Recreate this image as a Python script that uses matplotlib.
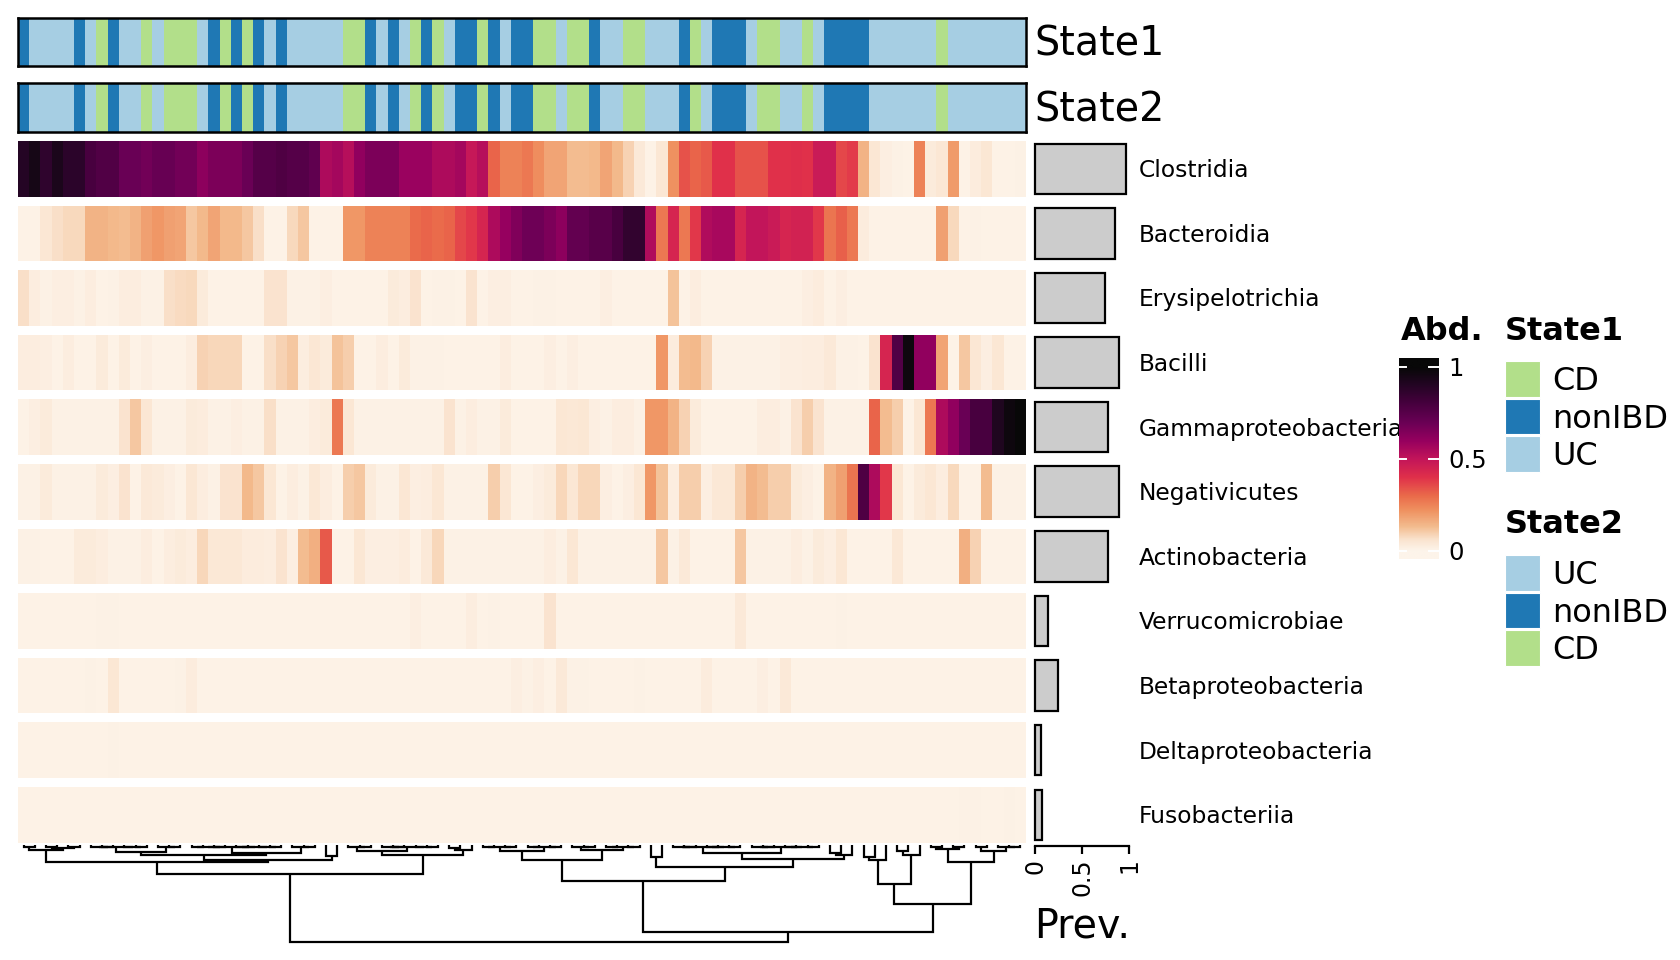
import numpy as np
import matplotlib
matplotlib.use("Agg")
import matplotlib.pyplot as plt
from matplotlib.colors import LinearSegmentedColormap, ListedColormap
from matplotlib.patches import Rectangle

# ---------------- data ----------------
taxa = ["Clostridia", "Bacteroidia", "Erysipelotrichia", "Bacilli",
        "Gammaproteobacteria", "Negativicutes", "Actinobacteria",
        "Verrucomicrobiae", "Betaproteobacteria", "Deltaproteobacteria",
        "Fusobacteriia"]

prevalence = [0.967, 0.844, 0.744, 0.889, 0.778, 0.889, 0.778, 0.133, 0.244, 0.067, 0.078]

clostridia = [0.90, 0.95, 0.87, 0.93, 0.88, 0.88, 0.80, 0.77, 0.77, 0.70,
              0.70, 0.68, 0.71, 0.71, 0.68, 0.68, 0.62, 0.66, 0.66, 0.66,
              0.70, 0.76, 0.76, 0.78, 0.76, 0.76, 0.73, 0.55, 0.57, 0.53,
              0.61, 0.66, 0.66, 0.66, 0.59, 0.59, 0.59, 0.55, 0.55, 0.57,
              0.49, 0.53, 0.31, 0.25, 0.25, 0.27, 0.23, 0.18, 0.18, 0.13,
              0.13, 0.14, 0.18, 0.14, 0.09, 0.04, 0.01, 0.05, 0.22, 0.34,
              0.31, 0.33, 0.40, 0.40, 0.34, 0.34, 0.34, 0.40, 0.40, 0.41,
              0.40, 0.48, 0.48, 0.36, 0.38, 0.15, 0.05, 0.02, 0.015, 0.01,
              0.25, 0.035, 0.05, 0.20, 0.01, 0.03, 0.05, 0.01, 0.01, 0.015]

bacteroidia = [0.01, 0.01, 0.05, 0.07, 0.08, 0.08, 0.15, 0.15, 0.14, 0.13,
               0.15, 0.19, 0.21, 0.19, 0.18, 0.11, 0.14, 0.18, 0.14, 0.14,
               0.11, 0.07, 0.01, 0.01, 0.08, 0.11, 0.01, 0.01, 0.01, 0.21,
               0.21, 0.25, 0.25, 0.25, 0.25, 0.30, 0.31, 0.30, 0.31, 0.36,
               0.39, 0.44, 0.55, 0.60, 0.65, 0.69, 0.69, 0.66, 0.62, 0.72,
               0.72, 0.75, 0.75, 0.80, 0.86, 0.86, 0.54, 0.27, 0.44, 0.27,
               0.39, 0.54, 0.56, 0.56, 0.44, 0.50, 0.50, 0.48, 0.44, 0.45,
               0.45, 0.39, 0.28, 0.32, 0.27, 0.03, 0.01, 0.01, 0.01, 0.01,
               0.01, 0.01, 0.19, 0.08, 0.01, 0.015, 0.01, 0.01, 0.01, 0.01]

erysipelotrichia = [0.07, 0.025, 0.015, 0.02, 0.02, 0.015, 0.025, 0.01, 0.015, 0.025,
                    0.025, 0.015, 0.015, 0.07, 0.075, 0.08, 0.035, 0.01, 0.01, 0.01,
                    0.01, 0.01, 0.06, 0.06, 0.012, 0.012, 0.012, 0.02, 0.01, 0.01,
                    0.01, 0.01, 0.01, 0.035, 0.025, 0.06, 0.01, 0.015, 0.015, 0.01,
                    0.06, 0.01, 0.02, 0.02, 0.01, 0.01, 0.015, 0.012, 0.01, 0.01,
                    0.01, 0.01, 0.02, 0.01, 0.01, 0.01, 0.01, 0.01, 0.12, 0.01,
                    0.025, 0.01, 0.01, 0.01, 0.01, 0.01, 0.01, 0.01, 0.01, 0.01,
                    0.02, 0.03, 0.01, 0.02, 0.01, 0.01, 0.01, 0.01, 0.01, 0.01,
                    0.01, 0.01, 0.01, 0.01, 0.01, 0.01, 0.01, 0.01, 0.01, 0.01]

bacilli = [0.025, 0.025, 0.02, 0.01, 0.025, 0.01, 0.01, 0.035, 0.01, 0.035,
           0.01, 0.02, 0.01, 0.01, 0.01, 0.025, 0.09, 0.085, 0.085, 0.085,
           0.01, 0.01, 0.07, 0.09, 0.11, 0.025, 0.05, 0.035, 0.12, 0.10,
           0.01, 0.01, 0.025, 0.01, 0.035, 0.015, 0.015, 0.015, 0.01, 0.01,
           0.01, 0.01, 0.01, 0.025, 0.01, 0.01, 0.01, 0.02, 0.01, 0.02,
           0.01, 0.01, 0.01, 0.01, 0.01, 0.01, 0.01, 0.21, 0.03, 0.13,
           0.14, 0.09, 0.012, 0.012, 0.012, 0.012, 0.012, 0.012, 0.02, 0.02,
           0.025, 0.025, 0.04, 0.015, 0.015, 0.01, 0.06, 0.44, 0.77, 0.98,
           0.61, 0.61, 0.18, 0.01, 0.11, 0.05, 0.02, 0.05, 0.01, 0.01]

gammaproteobacteria = [0.01, 0.02, 0.035, 0.012, 0.012, 0.012, 0.012, 0.012, 0.012, 0.06,
                       0.11, 0.05, 0.015, 0.015, 0.015, 0.035, 0.03, 0.012, 0.012, 0.02,
                       0.012, 0.012, 0.07, 0.012, 0.012, 0.012, 0.025, 0.035, 0.27, 0.05,
                       0.012, 0.012, 0.012, 0.012, 0.012, 0.012, 0.012, 0.012, 0.06, 0.012,
                       0.025, 0.012, 0.012, 0.035, 0.01, 0.01, 0.01, 0.01, 0.05, 0.045,
                       0.05, 0.02, 0.015, 0.025, 0.025, 0.015, 0.21, 0.21, 0.15, 0.09,
                       0.035, 0.01, 0.01, 0.01, 0.01, 0.01, 0.025, 0.025, 0.015, 0.06,
                       0.10, 0.06, 0.012, 0.012, 0.012, 0.012, 0.31, 0.13, 0.10, 0.01,
                       0.05, 0.27, 0.55, 0.61, 0.70, 0.80, 0.80, 0.92, 0.98, 1.00]

negativicutes = [0.015, 0.015, 0.035, 0.012, 0.012, 0.012, 0.012, 0.035, 0.02, 0.06,
                 0.01, 0.04, 0.035, 0.02, 0.01, 0.05, 0.025, 0.015, 0.06, 0.06,
                 0.14, 0.11, 0.05, 0.01, 0.025, 0.015, 0.045, 0.025, 0.01, 0.10,
                 0.11, 0.035, 0.015, 0.015, 0.05, 0.02, 0.025, 0.05, 0.012, 0.012,
                 0.012, 0.012, 0.10, 0.05, 0.01, 0.01, 0.02, 0.035, 0.085, 0.05,
                 0.085, 0.085, 0.02, 0.01, 0.02, 0.05, 0.21, 0.12, 0.025, 0.10,
                 0.10, 0.02, 0.045, 0.045, 0.10, 0.15, 0.13, 0.10, 0.10, 0.035,
                 0.02, 0.01, 0.15, 0.19, 0.28, 0.78, 0.55, 0.39, 0.05, 0.01,
                 0.035, 0.05, 0.025, 0.08, 0.01, 0.01, 0.13, 0.012, 0.012, 0.012]

actinobacteria = [0.015, 0.015, 0.01, 0.01, 0.01, 0.035, 0.035, 0.025, 0.012, 0.012,
                  0.012, 0.025, 0.01, 0.025, 0.035, 0.025, 0.085, 0.045, 0.045, 0.045,
                  0.03, 0.03, 0.025, 0.06, 0.02, 0.13, 0.16, 0.33, 0.01, 0.01,
                  0.05, 0.02, 0.02, 0.02, 0.03, 0.01, 0.04, 0.085, 0.012, 0.012,
                  0.012, 0.012, 0.012, 0.012, 0.015, 0.015, 0.015, 0.025, 0.015, 0.05,
                  0.012, 0.012, 0.012, 0.012, 0.012, 0.012, 0.012, 0.11, 0.012, 0.04,
                  0.01, 0.01, 0.01, 0.01, 0.11, 0.012, 0.012, 0.012, 0.012, 0.025,
                  0.012, 0.035, 0.02, 0.05, 0.01, 0.01, 0.01, 0.01, 0.045, 0.01,
                  0.01, 0.01, 0.01, 0.01, 0.16, 0.09, 0.01, 0.01, 0.01, 0.01]

verrucomicrobiae = [0.01, 0.01, 0.01, 0.01, 0.01, 0.01, 0.01, 0.013, 0.013, 0.01,
                    0.01, 0.01, 0.01, 0.01, 0.01, 0.01, 0.01, 0.01, 0.01, 0.01,
                    0.01, 0.01, 0.01, 0.01, 0.01, 0.01, 0.01, 0.01, 0.01, 0.01,
                    0.01, 0.01, 0.01, 0.01, 0.01, 0.02, 0.01, 0.01, 0.01, 0.01,
                    0.025, 0.01, 0.015, 0.01, 0.01, 0.01, 0.01, 0.06, 0.01, 0.01,
                    0.01, 0.01, 0.01, 0.01, 0.01, 0.01, 0.01, 0.01, 0.01, 0.01,
                    0.01, 0.01, 0.01, 0.01, 0.04, 0.01, 0.01, 0.01, 0.01, 0.01,
                    0.01, 0.01, 0.01, 0.015, 0.01, 0.01, 0.01, 0.01, 0.01, 0.01,
                    0.01, 0.01, 0.01, 0.01, 0.01, 0.01, 0.01, 0.01, 0.01, 0.01]

betaproteobacteria = [0.01, 0.01, 0.01, 0.01, 0.01, 0.01, 0.012, 0.01, 0.05, 0.01,
                      0.01, 0.01, 0.01, 0.01, 0.013, 0.03, 0.01, 0.01, 0.01, 0.01,
                      0.01, 0.01, 0.01, 0.01, 0.01, 0.01, 0.01, 0.01, 0.01, 0.01,
                      0.01, 0.01, 0.01, 0.01, 0.01, 0.01, 0.01, 0.01, 0.01, 0.01,
                      0.01, 0.01, 0.01, 0.01, 0.02, 0.015, 0.02, 0.01, 0.04, 0.015,
                      0.013, 0.01, 0.01, 0.01, 0.01, 0.015, 0.01, 0.01, 0.01, 0.01,
                      0.01, 0.03, 0.01, 0.01, 0.01, 0.01, 0.02, 0.01, 0.04, 0.01,
                      0.01, 0.01, 0.01, 0.01, 0.01, 0.01, 0.01, 0.01, 0.01, 0.01,
                      0.01, 0.01, 0.01, 0.01, 0.01, 0.01, 0.01, 0.01, 0.01, 0.01]

deltaproteobacteria = [0.01, 0.01, 0.01, 0.01, 0.01, 0.01, 0.01, 0.01, 0.012, 0.01,
                       0.01, 0.01, 0.01, 0.01, 0.01, 0.01, 0.01, 0.01, 0.01, 0.01,
                       0.01, 0.01, 0.01, 0.01, 0.01, 0.01, 0.01, 0.01, 0.01, 0.01,
                       0.01, 0.01, 0.01, 0.01, 0.01, 0.01, 0.01, 0.01, 0.01, 0.01,
                       0.01, 0.01, 0.01, 0.01, 0.01, 0.01, 0.01, 0.01, 0.01, 0.01,
                       0.01, 0.01, 0.01, 0.01, 0.01, 0.01, 0.01, 0.01, 0.01, 0.01,
                       0.01, 0.01, 0.01, 0.01, 0.01, 0.01, 0.01, 0.01, 0.01, 0.01,
                       0.01, 0.01, 0.01, 0.01, 0.01, 0.01, 0.01, 0.01, 0.01, 0.01,
                       0.01, 0.01, 0.01, 0.01, 0.01, 0.01, 0.01, 0.01, 0.01, 0.01]

fusobacteriia = [0.01, 0.01, 0.01, 0.01, 0.01, 0.01, 0.01, 0.01, 0.01, 0.01,
                 0.01, 0.01, 0.01, 0.01, 0.01, 0.01, 0.01, 0.01, 0.01, 0.01,
                 0.01, 0.01, 0.01, 0.01, 0.01, 0.01, 0.01, 0.01, 0.01, 0.01,
                 0.01, 0.01, 0.01, 0.01, 0.01, 0.01, 0.01, 0.01, 0.01, 0.01,
                 0.01, 0.01, 0.01, 0.01, 0.01, 0.01, 0.01, 0.01, 0.01, 0.01,
                 0.01, 0.01, 0.01, 0.01, 0.01, 0.01, 0.01, 0.01, 0.01, 0.01,
                 0.01, 0.01, 0.01, 0.01, 0.01, 0.01, 0.01, 0.01, 0.01, 0.01,
                 0.01, 0.01, 0.01, 0.01, 0.01, 0.01, 0.01, 0.01, 0.01, 0.01,
                 0.01, 0.01, 0.01, 0.01, 0.012, 0.012, 0.01, 0.01, 0.012, 0.01]

abundance = [clostridia, bacteroidia, erysipelotrichia, bacilli, gammaproteobacteria,
             negativicutes, actinobacteria, verrucomicrobiae, betaproteobacteria,
             deltaproteobacteria, fusobacteriia]

state1 = (["nonIBD"] + ["UC"] * 4 + ["nonIBD", "UC", "CD", "nonIBD", "UC", "UC", "CD", "UC",
          "CD", "CD", "CD", "UC", "nonIBD", "CD", "nonIBD", "CD", "nonIBD", "UC", "nonIBD"]
          + ["UC"] * 5 + ["CD", "CD", "nonIBD", "UC", "nonIBD", "UC", "CD", "nonIBD", "CD", "UC",
          "nonIBD", "nonIBD", "CD", "nonIBD", "UC", "nonIBD", "nonIBD", "CD", "CD", "UC",
          "CD", "CD", "nonIBD", "UC", "UC", "CD", "CD", "UC", "UC", "UC", "nonIBD", "CD", "UC",
          "nonIBD", "nonIBD", "nonIBD", "UC", "CD", "CD", "UC", "UC", "CD", "UC"]
          + ["nonIBD"] * 4 + ["UC"] * 6 + ["CD"] + ["UC"] * 7)
state2 = list(state1)

state1_levels = ["CD", "nonIBD", "UC"]
state2_levels = ["UC", "nonIBD", "CD"]
state_colors = {"CD": "#B2DF8A", "nonIBD": "#1F78B4", "UC": "#A6CEE3"}

# dendrogram merges: (start, split, end, height) over leaf ranges [start, end)
merges = [
    (0, 41, 90, 100),
    (0, 29, 41, 30), (0, 6, 29, 18), (0, 2, 6, 5), (2, 4, 6, 3),
    (6, 27, 29, 16), (6, 15, 27, 10.5), (6, 12, 15, 7), (15, 24, 27, 8),
    (27, 28, 29, 11.5), (29, 38, 41, 10.5), (29, 32, 38, 6),
    (38, 40, 41, 5), (38, 39, 40, 3),
    (41, 75, 90, 90), (41, 56, 75, 37), (41, 49, 56, 15), (41, 45, 49, 6),
    (49, 52, 56, 5), (56, 58, 75, 22.5), (56, 57, 58, 12), (58, 72, 75, 14),
    (58, 65, 72, 8), (72, 74, 75, 10), (72, 73, 74, 8),
    (75, 81, 90, 60.5), (75, 78, 81, 40), (75, 77, 78, 16), (75, 76, 77, 12),
    (78, 80, 81, 10.5), (78, 79, 80, 6), (81, 85, 90, 17.5), (81, 83, 85, 4),
    (85, 87, 90, 6),
]
leaf_merge_height = 2

# ---------------- figure ----------------
W, H = 1680, 960
fig = plt.figure(figsize=(W / 100, H / 100), dpi=100)
fig.patch.set_facecolor("white")


def px_axes(x0, y0, x1, y1):
    return fig.add_axes([x0 / W, 1 - y1 / H, (x1 - x0) / W, (y1 - y0) / H])


def ftext(x, y, s, **kw):
    return fig.text(x / W, 1 - y / H, s, **kw)


cmap = LinearSegmentedColormap.from_list("abd", [
    (0.00, "#FDF4EA"), (0.06, "#FAE3CE"), (0.13, "#F3BC8F"), (0.22, "#EF9160"),
    (0.30, "#EA6A4A"), (0.40, "#E0304A"), (0.50, "#C3155A"), (0.60, "#96005F"),
    (0.70, "#6A0055"), (0.80, "#48003F"), (0.90, "#250525"), (1.00, "#080808")])

n = len(clostridia)
xe = np.arange(n + 1)
pitch = 64.6
RH = 55.5 / pitch
top, x_left, x_right = 141, 18, 1026
n_rows = len(taxa)
hm_bottom = top + (n_rows - 1) * pitch + 55.5

# heatmap
ax = px_axes(x_left, top, x_right, hm_bottom)
for i, row in enumerate(abundance):
    ax.pcolormesh(xe, [i, i + RH], np.array(row)[None, :], cmap=cmap, vmin=0, vmax=1,
                  shading="flat", antialiased=False, edgecolors="none")
ax.set_xlim(0, n)
ax.set_ylim(n_rows - 1 + RH, 0)
ax.axis("off")

# state annotations
for (y0, y1), states, label in [((17.5, 66), state1, "State1"), ((83, 132), state2, "State2")]:
    a = px_axes(x_left, y0, x_right, y1)
    cats = ["CD", "nonIBD", "UC"]
    codes = np.array([cats.index(s) for s in states])[None, :]
    a.pcolormesh(xe, [0, 1], codes, cmap=ListedColormap([state_colors[c] for c in cats]),
                 vmin=-0.5, vmax=2.5, antialiased=False, edgecolors="none")
    a.set_xlim(0, n)
    a.set_ylim(0, 1)
    a.set_xticks([])
    a.set_yticks([])
    for sp in a.spines.values():
        sp.set_linewidth(1.8)
        sp.set_color("black")
    ftext(1034, (y0 + y1) / 2 + 14.2, label, fontsize=28.5, va="baseline", ha="left")

# prevalence bars
ppu = 94.3
axb = px_axes(1030, top, 1140, 846)
axb.set_xlim(-5 / ppu, -5 / ppu + 110 / ppu)
axb.set_ylim((846 - top) / pitch, 0)
axb.barh(np.arange(n_rows) + RH / 2, prevalence, height=50.5 / pitch, left=0,
         color="#CCCCCC", edgecolor="black", linewidth=1.6)
for s in ["top", "right", "left"]:
    axb.spines[s].set_visible(False)
axb.spines["bottom"].set_bounds(0, 1)
axb.spines["bottom"].set_linewidth(1.6)
axb.set_yticks([])
axb.set_xticks([0, 0.5, 1])
axb.set_xticklabels(["0", "0.5", "1"], rotation=90, fontsize=17)
axb.tick_params(axis="x", length=6, width=1.6, pad=3)
axb.patch.set_alpha(0)
ftext(1034, 937, "Prev.", fontsize=28.5, va="baseline", ha="left")

# row labels
for i, t in enumerate(taxa):
    ftext(1139, top + i * pitch + 55.5 / 2 + 8.5, t, fontsize=16.8, va="baseline", ha="left")

# dendrogram
axd = px_axes(x_left, 843, x_right, 948)
axd.set_xlim(0, n)
pxu = 0.967
axd.set_ylim((948 - 845) / pxu, -(845 - 843) / pxu)
axd.axis("off")
mdict = {(a, b): (m, h) for a, m, b, h in merges}


def build(a, b):
    if b - a == 1:
        return a + 0.5, 0.0
    if (a, b) in mdict:
        m, h = mdict[(a, b)]
    else:
        m, h = (a + b) // 2, leaf_merge_height
    xl, hl = build(a, m)
    xr, hr = build(m, b)
    axd.plot([xl, xl, xr, xr], [hl, h, h, hr], color="black", lw=1.6,
             solid_joinstyle="miter", solid_capstyle="butt")
    return (xl + xr) / 2, h


build(0, n)

# colour bar legend
c_lo, c_hi = 551, 367
cpu = (c_lo - c_hi)
axc = px_axes(1399, 358, 1439, 559)
ymin = -(559 - c_lo) / cpu
ymax = 1 + (c_hi - 358) / cpu
grad = np.linspace(ymin, ymax, 400)[:, None]
axc.imshow(grad, aspect="auto", cmap=cmap, vmin=0, vmax=1, origin="lower",
           extent=(0, 1, ymin, ymax), interpolation="bilinear")
axc.set_xlim(0, 1)
axc.set_ylim(ymin, ymax)
axc.axis("off")
axc.set_zorder(10)
for v, lab in [(0, "0"), (0.5, "0.5"), (1, "1")]:
    axc.plot([0, 0.18], [v, v], color="white", lw=1.4)
    axc.plot([0.75, 1], [v, v], color="white", lw=1.4)
    ftext(1448, c_lo - v * cpu + 9, lab, fontsize=17.5, va="baseline", ha="left")
ftext(1401, 340, "Abd.", fontsize=23, fontweight="bold", va="baseline")

# categorical legends
ov = fig.add_axes([0, 0, 1, 1])
ov.set_xlim(0, W)
ov.set_ylim(H, 0)
ov.axis("off")
for title, levels, title_y, box_top in [("State1", state1_levels, 340, 361),
                                       ("State2", state2_levels, 533, 555)]:
    ov.text(1505, title_y, title, fontsize=23, fontweight="bold", va="baseline", ha="left")
    for j, lv in enumerate(levels):
        yt = box_top + j * 37.5
        ov.add_patch(Rectangle((1505, yt), 34.5, 35.5, facecolor=state_colors[lv],
                               edgecolor="white", linewidth=0.8))
        ov.text(1552, yt + 17.75 + 11.5, lv, fontsize=23, va="baseline", ha="left")

fig.savefig("out.png", dpi=100)
